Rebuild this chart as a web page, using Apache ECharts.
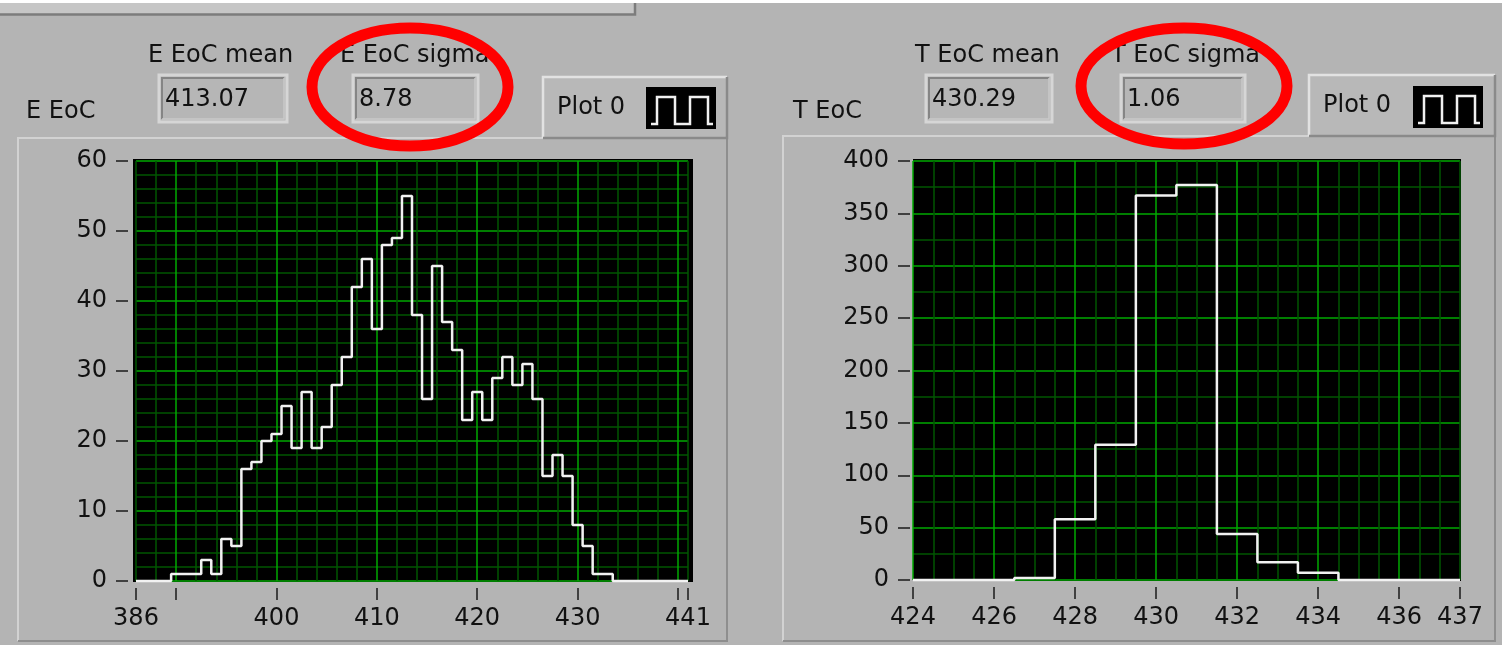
<!DOCTYPE html>
<html>
<head>
<meta charset="utf-8">
<title>E EoC / T EoC</title>
<script src="https://cdn.jsdelivr.net/npm/echarts@6.0.0/dist/echarts.min.js"></script>
<style>
  html, body { margin: 0; padding: 0; background: #b4b4b4; }
  #chart { width: 1502px; height: 645px; }
</style>
</head>
<body>
<div id="chart"></div>
<script>
// ---- E EoC histogram (bin centres, counts) ----
const eBinCenters = [390, 391, 392, 393, 394, 395, 396, 397, 398, 399,
                     400, 401, 402, 403, 404, 405, 406, 407, 408, 409,
                     410, 411, 412, 413, 414, 415, 416, 417, 418, 419,
                     420, 421, 422, 423, 424, 425, 426, 427, 428, 429,
                     430, 431, 432, 433];
const eCounts = [1, 1, 1, 3, 1, 6, 5, 16, 17, 20,
                 21, 25, 19, 27, 19, 22, 28, 32, 42, 46,
                 36, 48, 49, 55, 38, 26, 45, 37, 33, 23,
                 27, 23, 29, 32, 28, 31, 26, 15, 18, 15,
                 8, 5, 1, 1];
const eRange = [386, 441];
const eTickValues = [386, 390, 400, 410, 420, 430, 440, 441];
const eLabelValues = [386, 400, 410, 420, 430, 441];
const eYRange = [0, 60];
const eMean = 413.07;
const eSigma = 8.78;

// ---- T EoC histogram ----
const tBinCenters = [427, 428, 429, 430, 431, 432, 433, 434];
const tCounts = [2, 58, 129, 367, 377, 44, 17, 7];
const tRange = [424, 437.5];
const tTickValues = [424, 426, 428, 430, 432, 434, 436, 437.5];
const tTickLabels = ['424', '426', '428', '430', '432', '434', '436', '437'];
const tYRange = [0, 400];
const tMean = 430.29;
const tSigma = 1.06;

// Turn bin centres + counts into a step outline from axis min to axis max.
function stepOutline(centers, counts, range) {
  const w = centers[1] - centers[0];
  const pts = [[range[0], 0]];
  centers.forEach((c, i) => pts.push([c - w / 2, counts[i]]));
  pts.push([centers[centers.length - 1] + w / 2, 0]);
  pts.push([range[1], 0]);
  return pts;
}

const FONT = '"DejaVu Sans", Verdana, sans-serif';
const TXT = '#111111';
const GRID_MAJOR = '#00a800';
const GRID_MINOR = '#005600';
const PANEL = '#b4b4b4';

function label(text, x, y, size) {
  return {
    type: 'text', z: 5,
    style: { text: text, x: x, y: y, fill: TXT, font: (size || 24) + 'px ' + FONT,
             textAlign: 'left', textVerticalAlign: 'middle' }
  };
}

// Sunken numeric indicator
function indicator(x, y, w, h, value) {
  return [
    { type: 'rect', z: 3, shape: { x: x, y: y, width: w, height: h },
      style: { fill: '#b6b6b6', stroke: '#d6d6d6', lineWidth: 3 } },
    { type: 'polyline', z: 4, shape: { points: [[x + 3, y + h - 3], [x + 3, y + 3], [x + w - 3, y + 3]] },
      style: { stroke: '#858585', lineWidth: 2, fill: null } },
    { type: 'polyline', z: 4, shape: { points: [[x + w - 3, y + 3], [x + w - 3, y + h - 3], [x + 3, y + h - 3]] },
      style: { stroke: '#c9c9c9', lineWidth: 1.5, fill: null } },
    label(value, x + 6, y + h / 2 + 1)
  ];
}

// Raised legend button with a step glyph in a black swatch
function legendBox(x, y, w, h, ix, iy) {
  const g = [[5, 37], [11, 37], [11, 10], [29, 10], [29, 37], [44, 37], [44, 10], [62, 10], [62, 37], [67, 37]];
  return [
    { type: 'rect', z: 3, shape: { x: x, y: y, width: w, height: h },
      style: { fill: '#b8b8b8', stroke: null } },
    { type: 'polyline', z: 4, shape: { points: [[x, y + h], [x, y], [x + w, y]] },
      style: { stroke: '#e2e2e2', lineWidth: 2.5, fill: null } },
    { type: 'polyline', z: 4, shape: { points: [[x + w, y], [x + w, y + h], [x, y + h]] },
      style: { stroke: '#8a8a8a', lineWidth: 2.5, fill: null } },
    label('Plot 0', x + 14, y + h / 2),
    { type: 'rect', z: 4, shape: { x: ix, y: iy, width: 70, height: 42 },
      style: { fill: '#000000' } },
    { type: 'polyline', z: 5, shape: { points: g.map(p => [ix + p[0], iy + p[1]]) },
      style: { stroke: '#f0f0f0', lineWidth: 2.5, fill: null } }
  ];
}

// Graph frame: light top/left, dark bottom/right
function frame(x1, y1, x2, y2) {
  return [
    { type: 'polyline', z: 2, shape: { points: [[x1, y2], [x1, y1], [x2, y1]] },
      style: { stroke: '#d2d2d2', lineWidth: 2, fill: null } },
    { type: 'polyline', z: 2, shape: { points: [[x2, y1], [x2, y2], [x1, y2]] },
      style: { stroke: '#8e8e8e', lineWidth: 2, fill: null } }
  ];
}

const graphics = [].concat(
  [
    { type: 'rect', z: 1, shape: { x: 0, y: 0, width: 1502, height: 3 }, style: { fill: '#ffffff' } },
    { type: 'rect', z: 1, shape: { x: 0, y: 3, width: 636, height: 11 }, style: { fill: '#c6c6c6' } },
    { type: 'polyline', z: 2, shape: { points: [[0, 14.5], [635, 14.5], [635, 3]] },
      style: { stroke: '#7c7c7c', lineWidth: 2.5, fill: null } }
  ],
  frame(18, 138, 727, 641),
  frame(783, 136, 1495, 641),
  // plot backgrounds
  [
    { type: 'rect', z: -1, shape: { x: 133, y: 159, width: 560, height: 423 }, style: { fill: '#000000' } },
    { type: 'rect', z: -1, shape: { x: 913, y: 159, width: 548, height: 422 }, style: { fill: '#000000' } }
  ],
  [label('E EoC', 26, 112), label('E EoC mean', 148, 56), label('E EoC sigma', 340, 56)],
  indicator(159, 75, 128, 47, eMean.toFixed(2)),
  indicator(353, 75, 125, 47, eSigma.toFixed(2)),
  legendBox(543, 77, 184, 61, 646, 87),
  [label('T EoC', 793, 112), label('T EoC mean', 915, 56), label('T EoC sigma', 1111, 56)],
  indicator(926, 75, 126, 47, tMean.toFixed(2)),
  indicator(1121, 75, 124, 47, tSigma.toFixed(2)),
  legendBox(1309, 75, 186, 61, 1413, 86),
  // red annotation rings
  [
    { type: 'ellipse', z: 20, shape: { cx: 410, cy: 87, rx: 98, ry: 59 },
      style: { fill: 'transparent', stroke: '#ff0000', lineWidth: 11 } },
    { type: 'ellipse', z: 20, shape: { cx: 1184, cy: 86, rx: 103, ry: 58 },
      style: { fill: 'transparent', stroke: '#ff0000', lineWidth: 11 } }
  ]
);

const tickLine = { color: '#1a1a1a', width: 1.5 };
const axisFont = { color: TXT, fontFamily: FONT, fontSize: 24 };

const option = {
  backgroundColor: PANEL,
  animation: false,
  grid: [
    { left: 136, top: 161, width: 552, height: 420 },
    { left: 913, top: 161, width: 547, height: 419 }
  ],
  xAxis: [
    { // E: grid lines every 2, bright every 10
      type: 'value', gridIndex: 0, min: eRange[0], max: eRange[1], interval: 2,
      axisLine: { show: false }, axisTick: { show: false }, axisLabel: { show: false },
      splitLine: { show: true, lineStyle: { width: 1.5,
        color: [GRID_MINOR, GRID_MINOR, GRID_MAJOR, GRID_MINOR, GRID_MINOR] } }
    },
    { // E: ticks and labels
      type: 'value', gridIndex: 0, min: eRange[0], max: eRange[1], position: 'bottom', offset: 7,
      axisLine: { show: false },
      axisTick: { show: true, customValues: eTickValues, length: 12, lineStyle: tickLine },
      axisLabel: Object.assign({ customValues: eLabelValues, margin: 19 }, axisFont),
      splitLine: { show: false }
    },
    { // T: grid lines every 0.5, bright every 2
      type: 'value', gridIndex: 1, min: tRange[0], max: tRange[1], interval: 0.5,
      axisLine: { show: false }, axisTick: { show: false }, axisLabel: { show: false },
      splitLine: { show: true, lineStyle: { width: 1.5,
        color: [GRID_MAJOR, GRID_MINOR, GRID_MINOR, GRID_MINOR] } }
    },
    { // T: ticks and labels
      type: 'value', gridIndex: 1, min: tRange[0], max: tRange[1], position: 'bottom', offset: 7,
      axisLine: { show: false },
      axisTick: { show: true, customValues: tTickValues, length: 12, lineStyle: tickLine },
      axisLabel: Object.assign({ customValues: tTickValues, margin: 19,
        formatter: v => tTickLabels[tTickValues.indexOf(v)] }, axisFont),
      splitLine: { show: false }
    }
  ],
  yAxis: [
    {
      type: 'value', gridIndex: 0, min: eYRange[0], max: eYRange[1], interval: 10, offset: 8,
      axisLine: { show: false },
      axisTick: { show: true, length: 12, lineStyle: tickLine },
      axisLabel: Object.assign({ margin: 21 }, axisFont),
      splitLine: { show: true, lineStyle: { color: GRID_MAJOR, width: 1.5 } },
      minorTick: { show: false, splitNumber: 5 },
      minorSplitLine: { show: true, lineStyle: { color: GRID_MINOR, width: 1.5 } }
    },
    {
      type: 'value', gridIndex: 1, min: tYRange[0], max: tYRange[1], interval: 50, offset: 3,
      axisLine: { show: false },
      axisTick: { show: true, length: 12, lineStyle: tickLine },
      axisLabel: Object.assign({ margin: 21 }, axisFont),
      splitLine: { show: true, lineStyle: { color: GRID_MAJOR, width: 1.5 } },
      minorTick: { show: false, splitNumber: 2 },
      minorSplitLine: { show: true, lineStyle: { color: GRID_MINOR, width: 1.5 } }
    }
  ],
  series: [
    {
      name: 'E EoC', type: 'line', xAxisIndex: 0, yAxisIndex: 0,
      data: stepOutline(eBinCenters, eCounts, eRange), step: 'end',
      symbol: 'none', clip: false, silent: true,
      lineStyle: { color: '#f2f2f2', width: 2.5 }
    },
    {
      name: 'T EoC', type: 'line', xAxisIndex: 2, yAxisIndex: 1,
      data: stepOutline(tBinCenters, tCounts, tRange), step: 'end',
      symbol: 'none', clip: false, silent: true,
      lineStyle: { color: '#f2f2f2', width: 2.5 }
    }
  ],
  graphic: graphics
};

const chart = echarts.init(document.getElementById('chart'), null, { renderer: 'canvas' });
chart.setOption(option);
</script>
</body>
</html>
